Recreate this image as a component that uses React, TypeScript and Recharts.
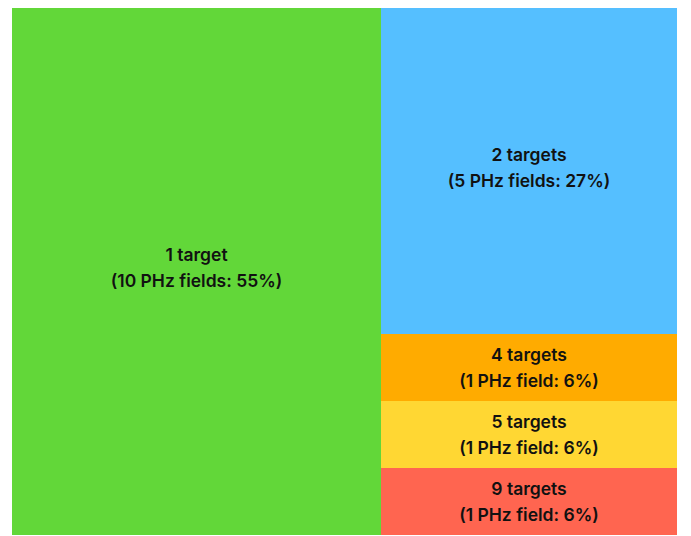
import React from "react";
import { Treemap } from "recharts";

const categories = ["1 target", "2 targets", "4 targets", "5 targets", "9 targets"];
const fieldCounts = [10, 5, 1, 1, 1];
const fieldLabels = [
  "(10 PHz fields: 55%)",
  "(5 PHz fields: 27%)",
  "(1 PHz field: 6%)",
  "(1 PHz field: 6%)",
  "(1 PHz field: 6%)",
];
const colors = ["#62D739", "#55BFFF", "#FFAB00", "#FFD733", "#FF6550"];

const leaf = (i: number) => ({
  name: categories[i],
  size: fieldCounts[i],
  label: fieldLabels[i],
  color: colors[i],
});

// nested so that the right-hand cells are carved off as horizontal strips
const treeData = [
  leaf(0),
  {
    name: "rest",
    children: [
      {
        name: "rest-a",
        children: [
          { name: "rest-b", children: [leaf(1), leaf(2)] },
          leaf(3),
        ],
      },
      leaf(4),
    ],
  },
];

const FONT = "Inter, 'Liberation Sans', sans-serif";

const Cell = (props: any) => {
  const { x, y, width, height, children, name, label, color } = props;
  if (children && children.length) return <g />;
  const cx = x + width / 2;
  const cy = y + height / 2;
  return (
    <g>
      <rect x={x} y={y} width={width} height={height} fill={color} stroke="none" />
      <text x={cx} y={cy - 7} textAnchor="middle" fontFamily={FONT} fontWeight={600} fontSize={17.5} fill="#111">
        {name}
      </text>
      <text x={cx} y={cy + 19} textAnchor="middle" fontFamily={FONT} fontWeight={600} fontSize={17.5} fill="#111">
        {label}
      </text>
    </g>
  );
};

export default function App() {
  return (
    <div style={{ position: "relative", top: -7, left: 4, width: 665, height: 534 }}>
      <Treemap
        width={665}
        height={534}
        data={treeData}
        dataKey="size"
        aspectRatio={1}
        isAnimationActive={false}
        content={Cell as any}
      />
    </div>
  );
}
